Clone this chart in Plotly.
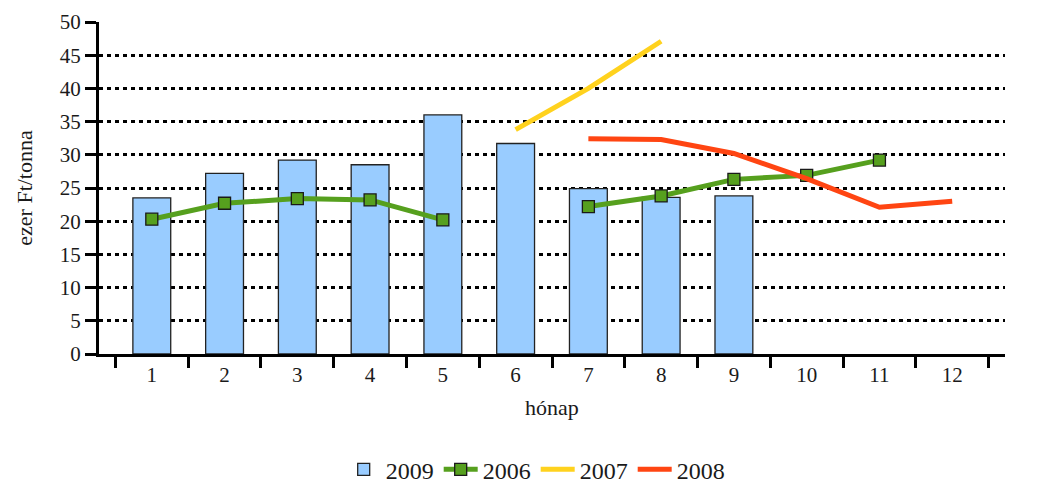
import plotly.graph_objects as go

months = ["1", "2", "3", "4", "5", "6", "7", "8", "9", "10", "11", "12"]
y2009 = [23.5, 27.2, 29.2, 28.5, 36.0, 31.7, 24.9, 23.6, 23.8, None, None, None]
y2006 = [20.3, 22.7, 23.4, 23.2, 20.2, None, 22.2, 23.8, 26.3, 26.9, 29.2, None]
y2007 = [None, None, None, None, None, 33.8, 40.0, 47.1, None, None, None, None]
y2008 = [None, None, None, None, None, None, 32.4, 32.3, 30.2, 26.4, 22.1, 23.0]

font_family = "'Liberation Serif', 'DejaVu Serif', 'Times New Roman', serif"

fig = go.Figure()
fig.add_trace(go.Bar(x=months, y=y2009, name="2009", width=0.52,
                     marker=dict(color="#99CCFF", line=dict(color="#222222", width=1.3))))
fig.add_trace(go.Scatter(x=months, y=y2006, name="2006", mode="lines+markers",
                         line=dict(color="#56A01E", width=5), connectgaps=False,
                         marker=dict(symbol="square", size=12, color="#56A01E",
                                     line=dict(color="#1a1a1a", width=1.3))))
fig.add_trace(go.Scatter(x=months, y=y2007, name="2007", mode="lines",
                         line=dict(color="#FFD21E", width=5)))
fig.add_trace(go.Scatter(x=months, y=y2008, name="2008", mode="lines",
                         line=dict(color="#FF4512", width=5)))

# page body has an 8px margin, so the figure is sized/placed to compensate
fig.update_layout(
    width=1030, height=476,
    margin=dict(l=91, r=33, t=14, b=130),
    plot_bgcolor="white", paper_bgcolor="white",
    font=dict(family=font_family, size=21, color="#1a1a1a"),
    showlegend=True,
    legend=dict(orientation="h", x=0.482, xanchor="center", yref="container",
                y=0.03, yanchor="middle", font=dict(size=24), traceorder="normal",
                itemwidth=34),
    bargap=0.48,
)
fig.update_xaxes(
    type="category", categoryorder="array", categoryarray=months,
    showline=True, linecolor="black", linewidth=3,
    ticks="outside", ticklen=11, tickwidth=2.5, tickcolor="black",
    tickson="boundaries", showgrid=False, automargin=False,
    title=dict(text="hónap", font=dict(size=22), standoff=14),
)
fig.update_yaxes(
    range=[0, 50], tickvals=[0, 5, 10, 15, 20, 25, 30, 35, 40, 45, 50],
    showline=True, linecolor="black", linewidth=3,
    ticks="outside", ticklen=11, tickwidth=2.5, tickcolor="black",
    showgrid=True, gridcolor="black", gridwidth=2.5, griddash="4px,4px",
    zeroline=False, automargin=False,
    title=dict(text="ezer Ft/tonna", font=dict(size=22), standoff=22),
)
fig.write_html("out.html")
